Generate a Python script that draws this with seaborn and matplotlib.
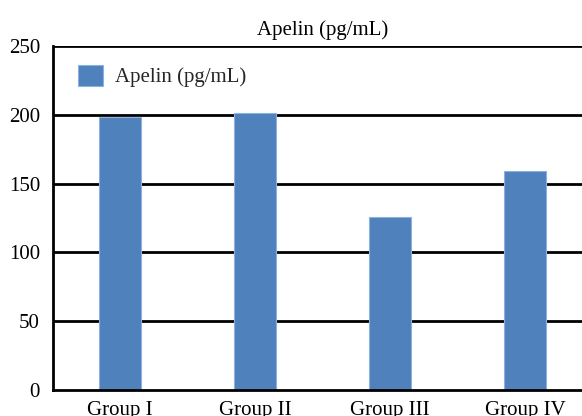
import matplotlib
matplotlib.use("Agg")
import matplotlib.pyplot as plt
import seaborn as sns
import pandas as pd

groups = ["Group I", "Group II", "Group III", "Group IV"]
apelin = [198.5, 201.5, 126, 159]
y_ticks = [0, 50, 100, 150, 200, 250]
series_name = "Apelin (pg/mL)"

sns.set_theme(style="white")
plt.rcParams["font.family"] = ["Liberation Serif", "DejaVu Serif"]

df = pd.DataFrame({"group": groups, "value": apelin})

fig = plt.figure(figsize=(5.82, 4.16), dpi=100)
W, H = 582, 416
ax = fig.add_axes([52.5 / W, (H - 390) / H, 540 / W, 344 / H])

sns.barplot(data=df, x="group", y="value", color="#4F81BD", width=0.31,
            saturation=1, ax=ax, label=series_name, zorder=3,
            edgecolor="#8DB0DC", linewidth=0.8)

ax.set_ylim(0, 250)
ax.set_yticks(y_ticks)
ax.set_xlim(-0.5, 3.5)
for t in y_ticks[1:]:
    ax.axhline(t, color="black", lw=2, zorder=1)

for s in ["top", "right"]:
    ax.spines[s].set_visible(False)
for s in ["left", "bottom"]:
    ax.spines[s].set_color("black")
    ax.spines[s].set_linewidth(2)
    ax.spines[s].set_zorder(4)

ax.tick_params(axis="both", length=0, labelsize=15, colors="black")
ax.tick_params(axis="y", pad=9)
ax.tick_params(axis="x", pad=8)
ax.set_xlabel("")
ax.set_ylabel("")
ax.set_title(series_name, fontsize=15, color="black", pad=8)

leg = ax.legend(loc="upper left", bbox_to_anchor=(0.013, 1.0), frameon=False,
                fontsize=15, handlelength=1.2, handleheight=1.2, handletextpad=0.58)

fig.savefig("out.png", dpi=100)
